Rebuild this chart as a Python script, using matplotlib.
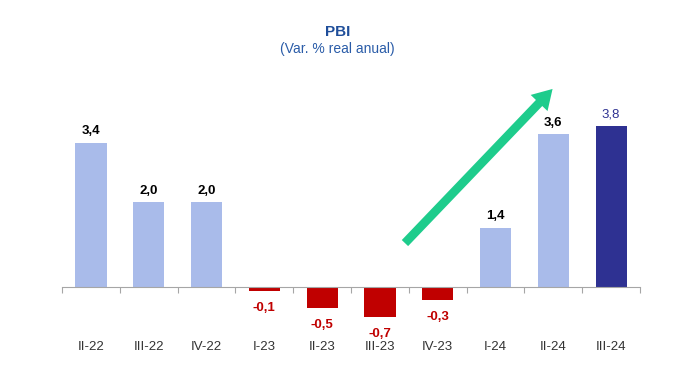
import matplotlib.pyplot as plt
import matplotlib as mpl

mpl.rcParams['font.family'] = ['Liberation Sans', 'DejaVu Sans']

# Data
quarters = ['II-22', 'III-22', 'IV-22', 'I-23', 'II-23', 'III-23', 'IV-23', 'I-24', 'II-24', 'III-24']
growth = [3.4, 2.0, 2.0, -0.1, -0.5, -0.7, -0.3, 1.4, 3.6, 3.8]

LIGHT = '#A9BBEA'
RED = '#C00000'
NAVY = '#2E3192'
GREEN = '#1ECC8C'
TITLE_BLUE = '#1F4E9A'

fig = plt.figure(figsize=(6.95, 3.87), dpi=100)
ax = fig.add_axes([0.0892, 0.094, 0.8317, 0.712])

colors = []
for i, v in enumerate(growth):
    if i == len(growth) - 1:
        colors.append(NAVY)
    elif v < 0:
        colors.append(RED)
    else:
        colors.append(LIGHT)

x = list(range(len(quarters)))
ax.bar(x, growth, width=0.54, color=colors, zorder=2)

# value labels
for i, v in enumerate(growth):
    txt = f"{v:.1f}".replace('.', ',')
    if v >= 0:
        c = NAVY if i == len(growth) - 1 else 'black'
        w = 'normal' if i == len(growth) - 1 else 'bold'
        ax.annotate(txt, (i, v), xytext=(0, 4), textcoords='offset points',
                    ha='center', va='bottom', fontsize=9.5, fontweight=w, color=c)
    else:
        ax.annotate(txt, (i, v), xytext=(0, -8), textcoords='offset points',
                    ha='center', va='top', fontsize=9.5, fontweight='bold', color=RED)

# category labels
for i, q in enumerate(quarters):
    ax.text(i, -1.415, q, ha='center', va='center', fontsize=9.5, color='#333333')

ax.set_xlim(-0.5, len(quarters) - 0.5)
ax.set_ylim(-1.5, 5.0)

for s in ['top', 'right', 'left']:
    ax.spines[s].set_visible(False)
ax.spines['bottom'].set_position(('data', 0))
ax.spines['bottom'].set_color('#A6A6A6')
ax.spines['bottom'].set_linewidth(0.8)
ax.set_yticks([])
ax.set_xticks([i - 0.5 for i in range(len(quarters) + 1)])
ax.set_xticklabels([])
ax.tick_params(axis='x', direction='out', length=4, color='#A6A6A6', width=0.8)

# trend arrow
ax.annotate('', xy=(8.02, 4.72), xytext=(5.4, 0.99),
            arrowprops=dict(arrowstyle='simple,head_length=1.0,head_width=1.2,tail_width=0.45',
                            color=GREEN, lw=0, mutation_scale=14),
            annotation_clip=False, zorder=3)

fig.text(0.486, 0.918, 'PBI', ha='center', va='center', fontsize=11,
         fontweight='bold', color=TITLE_BLUE)
fig.text(0.486, 0.873, '(Var. % real anual)', ha='center', va='center',
         fontsize=10, color='#2A5CA8')

fig.savefig('out.png', dpi=100)
